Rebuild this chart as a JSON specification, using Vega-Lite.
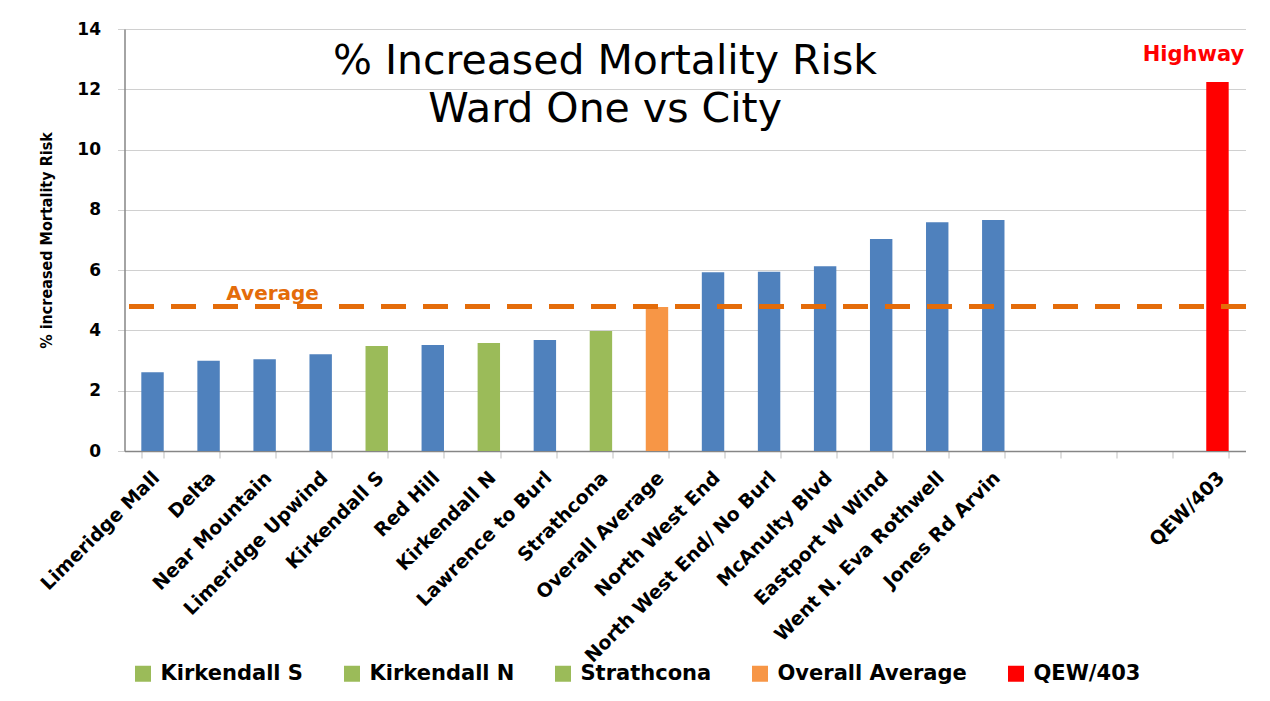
{
  "$schema": "https://vega.github.io/schema/vega-lite/v6.json",
  "width": 1121,
  "height": 422,
  "autosize": {"type": "none"},
  "padding": {"left": 124.5, "top": 29, "right": 24.5, "bottom": 250},
  "background": "white",
  "title": {
    "text": ["% Increased Mortality Risk", "Ward One vs City"],
    "font": "DejaVu Sans",
    "fontSize": 41,
    "fontWeight": "normal",
    "color": "#000000",
    "anchor": "middle",
    "frame": "group",
    "baseline": "top",
    "lineHeight": 48,
    "offset": 0,
    "dx": -80,
    "dy": 111
  },
  "data": {
    "values": [
      {"name": "Limeridge Mall", "value": 2.61},
      {"name": "Delta", "value": 2.99},
      {"name": "Near Mountain", "value": 3.04},
      {"name": "Limeridge Upwind", "value": 3.21},
      {"name": "Kirkendall S", "value": 3.48},
      {"name": "Red Hill", "value": 3.52},
      {"name": "Kirkendall N", "value": 3.58},
      {"name": "Lawrence to Burl", "value": 3.68},
      {"name": "Strathcona", "value": 3.98},
      {"name": "Overall Average", "value": 4.78},
      {"name": "North West End", "value": 5.93},
      {"name": "North West End/ No Burl", "value": 5.95},
      {"name": "McAnulty Blvd", "value": 6.13},
      {"name": "Eastport W Wind", "value": 7.03},
      {"name": "Went N. Eva Rothwell", "value": 7.59},
      {"name": "Jones Rd Arvin", "value": 7.66},
      {"name": "QEW/403", "value": 12.24}
    ]
  },
  "layer": [
    {
      "mark": {"type": "bar"},
      "encoding": {
        "x": {
          "field": "name",
          "type": "nominal",
          "sort": null,
          "scale": {
            "domain": ["Limeridge Mall", "Delta", "Near Mountain", "Limeridge Upwind", "Kirkendall S", "Red Hill", "Kirkendall N", "Lawrence to Burl", "Strathcona", "Overall Average", "North West End", "North West End/ No Burl", "McAnulty Blvd", "Eastport W Wind", "Went N. Eva Rothwell", "Jones Rd Arvin", " ", "  ", "   ", "QEW/403"],
            "paddingInner": 0.6,
            "paddingOuter": 0.3
          },
          "axis": {
            "title": null,
            "labelAngle": -45,
            "labelFont": "DejaVu Sans",
            "labelFontWeight": "bold",
            "labelFontSize": 19,
            "labelColor": "#000000",
            "labelLimit": 500,
            "labelPadding": 10,
            "labelOffset": -3,
            "tickBand": "extent",
            "ticks": true,
            "tickSize": 7,
            "tickColor": "#BFBFBF",
            "domainColor": "#868686",
            "domainWidth": 1.5,
            "grid": false
          }
        },
        "y": {
          "field": "value",
          "type": "quantitative",
          "scale": {"domain": [0, 14], "nice": false},
          "axis": {
            "title": "% increased Mortality Risk",
            "titleFont": "DejaVu Sans Condensed, Roboto Condensed, Roboto",
            "titleFontSize": 16,
            "titleFontWeight": "bold",
            "titleColor": "#000000",
            "titlePadding": 22,
            "values": [0, 2, 4, 6, 8, 10, 12, 14],
            "labelFont": "DejaVu Sans",
            "labelFontWeight": "bold",
            "labelFontSize": 17,
            "labelColor": "#000000",
            "labelPadding": 17,
            "tickSize": 7,
            "tickColor": "#D0D0D0",
            "domainColor": "#868686",
            "domainWidth": 1.5,
            "grid": true,
            "gridColor": "#D0D0D0",
            "gridWidth": 1.2
          }
        },
        "color": {
          "field": "name",
          "type": "nominal",
          "scale": {
            "domain": ["Limeridge Mall", "Delta", "Near Mountain", "Limeridge Upwind", "Kirkendall S", "Red Hill", "Kirkendall N", "Lawrence to Burl", "Strathcona", "Overall Average", "North West End", "North West End/ No Burl", "McAnulty Blvd", "Eastport W Wind", "Went N. Eva Rothwell", "Jones Rd Arvin", "QEW/403"],
            "range": ["#4F81BD", "#4F81BD", "#4F81BD", "#4F81BD", "#9BBB59", "#4F81BD", "#9BBB59", "#4F81BD", "#9BBB59", "#F79646", "#4F81BD", "#4F81BD", "#4F81BD", "#4F81BD", "#4F81BD", "#4F81BD", "#FF0000"]
          },
          "legend": {
            "title": null,
            "values": ["Kirkendall S", "Kirkendall N", "Strathcona", "Overall Average", "QEW/403"],
            "orient": "none",
            "legendX": 8,
            "legendY": 634,
            "direction": "horizontal",
            "symbolType": "square",
            "symbolSize": 256,
            "symbolStrokeWidth": 0,
            "labelFont": "DejaVu Sans",
            "labelFontWeight": "bold",
            "labelFontSize": 21,
            "labelColor": "#000000",
            "labelLimit": 400,
            "labelOffset": 7,
            "columnPadding": 38,
            "padding": 0
          }
        }
      }
    },
    {
      "mark": {"type": "rule", "color": "#E46C0A", "strokeWidth": 4.5, "strokeDash": [24, 18]},
      "encoding": {"y": {"datum": 4.8}}
    },
    {
      "data": {"values": [{"label": "Average"}]},
      "mark": {"type": "text", "font": "DejaVu Sans", "fontWeight": "bold", "fontSize": 20, "color": "#E46C0A", "baseline": "alphabetic", "align": "center", "dx": 8, "dy": -6},
      "encoding": {"x": {"datum": "Near Mountain"}, "y": {"datum": 4.8}, "text": {"field": "label"}}
    },
    {
      "data": {"values": [{"label": "Highway"}]},
      "mark": {"type": "text", "font": "DejaVu Sans", "fontWeight": "bold", "fontSize": 21, "color": "#FF0000", "baseline": "alphabetic", "align": "center", "dx": -24, "dy": -21},
      "encoding": {"x": {"datum": "QEW/403"}, "y": {"datum": 12.24}, "text": {"field": "label"}}
    }
  ],
  "config": {
    "view": {"stroke": null}
  }
}
